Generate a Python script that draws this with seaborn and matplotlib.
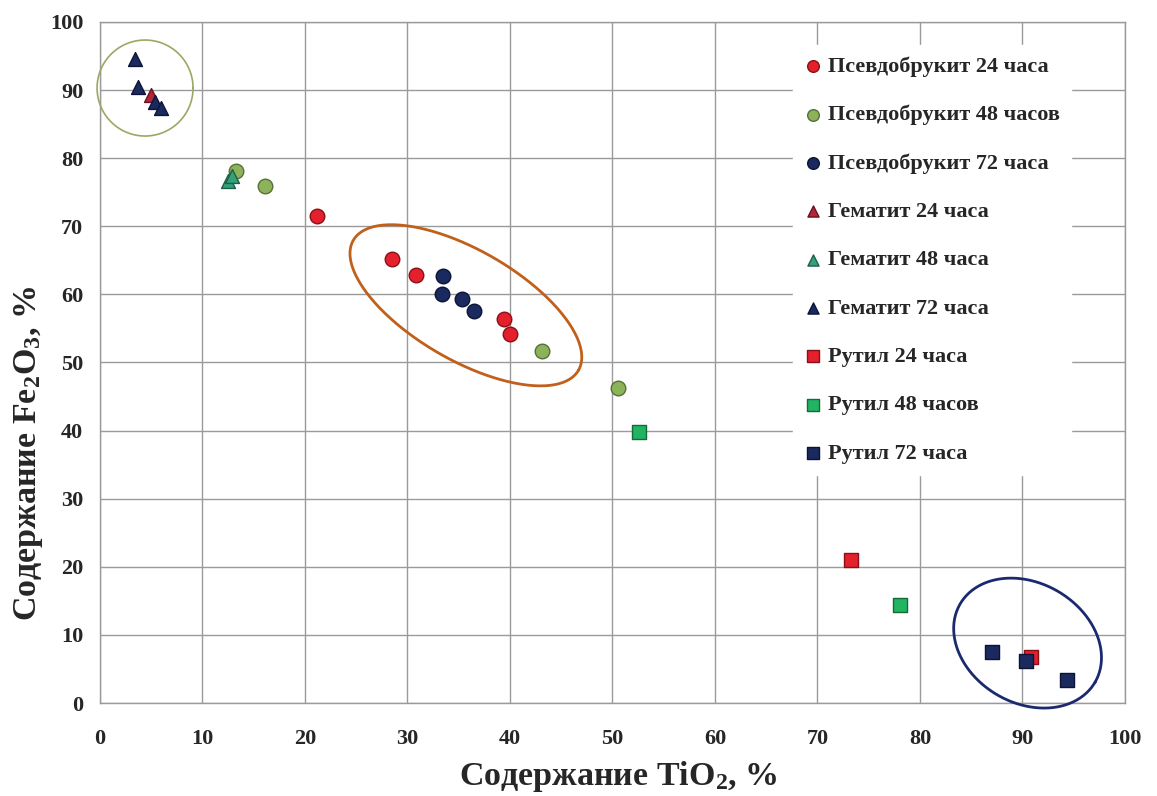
import numpy as np
import pandas as pd
import seaborn as sns
import matplotlib.pyplot as plt

# Data (TiO2 %, Fe2O3 %)
labels = ["Псевдобрукит 24 часа", "Псевдобрукит 48 часов", "Псевдобрукит 72 часа",
          "Гематит 24 часа", "Гематит 48 часа", "Гематит 72 часа",
          "Рутил 24 часа", "Рутил 48 часов", "Рутил 72 часа"]

pb24_x = [21.2, 28.5, 30.8, 39.4, 40.0]
pb24_y = [71.5, 65.2, 62.8, 56.4, 54.2]
pb48_x = [13.3, 16.1, 43.1, 50.5]
pb48_y = [78.1, 75.9, 51.7, 46.2]
pb72_x = [33.5, 33.4, 35.3, 36.5]
pb72_y = [62.7, 60.1, 59.3, 57.6]
hem24_x = [5.0]
hem24_y = [89.3]
hem48_x = [12.5, 12.9]
hem48_y = [76.6, 77.4]
hem72_x = [3.4, 3.7, 5.4, 6.0]
hem72_y = [94.5, 90.5, 88.3, 87.4]
rut24_x = [73.3, 90.8]
rut24_y = [21.0, 6.8]
rut48_x = [52.6, 78.1]
rut48_y = [39.8, 14.4]
rut72_x = [87.0, 90.3, 94.3]
rut72_y = [7.5, 6.2, 3.4]

xs = [pb24_x, pb48_x, pb72_x, hem24_x, hem48_x, hem72_x, rut24_x, rut48_x, rut72_x]
ys = [pb24_y, pb48_y, pb72_y, hem24_y, hem48_y, hem72_y, rut24_y, rut48_y, rut72_y]

face = ["#e3202b", "#8cb25a", "#1b2a5e", "#b3263a", "#35a07a", "#1b2a5e",
        "#e3202b", "#22b463", "#1b2a5e"]
edge = ["#8a1018", "#55703a", "#0c1436", "#6a1020", "#1d6048", "#0c1436",
        "#8a1018", "#136b3a", "#0c1436"]
mk = ["o", "o", "o", "^", "^", "^", "s", "s", "s"]
sizes = [110, 110, 110, 100, 100, 100, 110, 110, 110]

sns.set_style("white")
plt.rcParams['font.family'] = ['Liberation Serif', 'DejaVu Serif']
plt.rcParams['font.weight'] = 'bold'
plt.rcParams['mathtext.fontset'] = 'custom'
plt.rcParams['mathtext.rm'] = 'Liberation Serif:bold'
plt.rcParams['mathtext.it'] = 'Liberation Serif:bold'
plt.rcParams['mathtext.bf'] = 'Liberation Serif:bold'

fig, ax = plt.subplots(figsize=(11.57, 7.96), dpi=100)
fig.subplots_adjust(left=0.0864, right=0.9723, top=0.9724, bottom=0.1168)

for i, lab in enumerate(labels):
    df = pd.DataFrame({"x": xs[i], "y": ys[i]})
    sns.scatterplot(data=df, x="x", y="y", ax=ax, marker=mk[i], s=sizes[i],
                    color=face[i], edgecolor=edge[i], linewidth=1.0, label=lab, zorder=3)

ax.set_xlim(0, 100)
ax.set_ylim(0, 100)
ax.set_xticks(np.arange(0, 101, 10))
ax.set_yticks(np.arange(0, 101, 10))
ax.grid(True, color="#9a9a9a", linewidth=1.0)
ax.set_axisbelow(True)
for sp in ax.spines.values():
    sp.set_color("#9a9a9a")
    sp.set_linewidth(1.0)
ax.tick_params(axis="x", labelsize=16, length=0, pad=19)
ax.tick_params(axis="y", labelsize=16, length=0, pad=12)
for t in ax.get_xticklabels() + ax.get_yticklabels():
    t.set_fontweight("bold")

ax.set_xlabel("Содержание TiO$_2$, %", fontsize=24.5, fontweight="bold")
ax.set_ylabel("Содержание Fe$_2$O$_3$, %", fontsize=24.5, fontweight="bold")
ax.xaxis.set_label_coords(0.506, -0.108)
ax.yaxis.set_label_coords(-0.070, 0.367)
ax.xaxis.label.set_va("center")
ax.yaxis.label.set_va("center")

leg = ax.legend(loc="upper left", bbox_to_anchor=(0.665, 0.982), frameon=True,
                fontsize=16, labelspacing=1.25, handletextpad=0.3, handlelength=0.8,
                borderpad=0.5, markerscale=0.8)
leg.get_frame().set_edgecolor("white")
leg.get_frame().set_facecolor("white")
leg.get_frame().set_alpha(1.0)
for t in leg.get_texts():
    t.set_fontweight("bold")

# hand-drawn ellipses (pixel-shaped, converted to data units)
fig.canvas.draw()
bb = ax.get_window_extent()
sx = bb.width / 100.0
sy = bb.height / 100.0
t = np.linspace(0, 2 * np.pi, 300)


def ellipse(cx, cy, a, b, ang, color, lw):
    th = np.deg2rad(ang)
    px = a * np.cos(t) * np.cos(th) - b * np.sin(t) * np.sin(th)
    py = a * np.cos(t) * np.sin(th) + b * np.sin(t) * np.cos(th)
    ax.plot(cx + px / sx, cy + py / sy, color=color, lw=lw, zorder=4, clip_on=False)


ellipse(4.4, 90.3, 48, 48, 0, "#98aa62", 1.2)
ellipse(35.7, 58.4, 130, 55, -30, "#c0601a", 2.0)
ellipse(90.5, 8.8, 78, 60, -30, "#1b2a6e", 2.0)

fig.savefig("out.png", dpi=100)
